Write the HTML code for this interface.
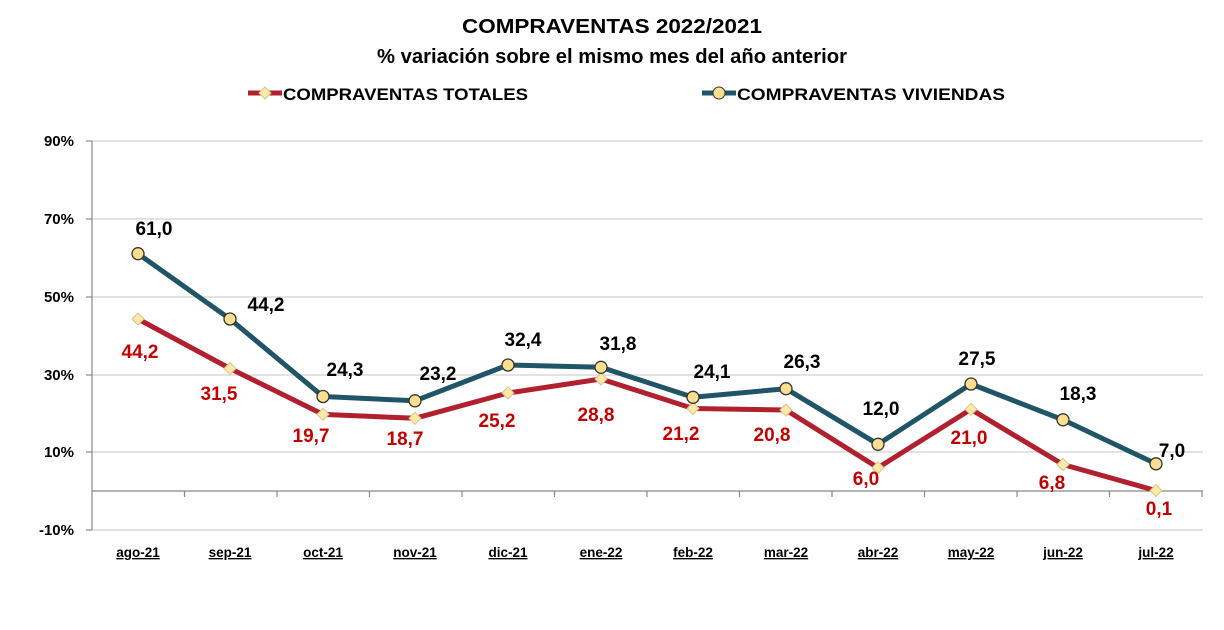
<!DOCTYPE html>
<html><head><meta charset="utf-8"><style>
body{margin:0;background:#fff;}
svg text{font-family:"Liberation Sans",sans-serif;font-weight:bold;}
</style></head><body>
<svg width="1224" height="625" viewBox="0 0 1224 625" xmlns="http://www.w3.org/2000/svg">
<rect width="1224" height="625" fill="#fff"/>
<text x="612" y="33" font-size="20" text-anchor="middle" textLength="300" lengthAdjust="spacingAndGlyphs">COMPRAVENTAS 2022/2021</text>
<text x="612" y="63" font-size="20" text-anchor="middle" textLength="470" lengthAdjust="spacingAndGlyphs">% variación sobre el mismo mes del año anterior</text>
<line x1="248" y1="93" x2="282" y2="93" stroke="#b0202e" stroke-width="5"/>
<path d="M265 87 L271 93 L265 99 L259 93Z" fill="#fde9a9" stroke="#d9c38a"/>
<text x="283" y="100" font-size="17" textLength="245" lengthAdjust="spacingAndGlyphs">COMPRAVENTAS TOTALES</text>
<line x1="702" y1="93" x2="736" y2="93" stroke="#1f5566" stroke-width="5"/>
<circle cx="719" cy="93" r="6" fill="#fddf8f" stroke="#333"/>
<text x="737" y="100" font-size="17" textLength="268" lengthAdjust="spacingAndGlyphs">COMPRAVENTAS VIVIENDAS</text>
<g stroke="#d9d9d9" stroke-width="1.5">
<line x1="92" y1="141" x2="1203" y2="141"/><line x1="92" y1="219" x2="1203" y2="219"/>
<line x1="92" y1="297" x2="1203" y2="297"/><line x1="92" y1="375" x2="1203" y2="375"/>
<line x1="92" y1="452" x2="1203" y2="452"/><line x1="92" y1="530" x2="1203" y2="530"/>
</g>
<g stroke="#888" stroke-width="1.2">
<line x1="92" y1="141" x2="92" y2="530"/>
<line x1="86" y1="141" x2="92" y2="141"/><line x1="86" y1="219" x2="92" y2="219"/><line x1="86" y1="297" x2="92" y2="297"/><line x1="86" y1="375" x2="92" y2="375"/><line x1="86" y1="452" x2="92" y2="452"/><line x1="86" y1="530" x2="92" y2="530"/>
<line x1="92" y1="491" x2="1203" y2="491"/>
<path d="M184.5 491v6M277 491v6M369.5 491v6M462 491v6M554.5 491v6M647 491v6M739.5 491v6M832 491v6M924.5 491v6M1017 491v6M1109.5 491v6M1202 491v6"/>
</g>
<g font-size="15" text-anchor="end">
<text x="74" y="146">90%</text><text x="74" y="224">70%</text><text x="74" y="302">50%</text><text x="74" y="380">30%</text><text x="74" y="457">10%</text><text x="74" y="535">-10%</text>
</g>
<g font-size="13.5" text-anchor="middle" text-decoration="underline">
<text x="138" y="557">ago-21</text><text x="230" y="557">sep-21</text><text x="323" y="557">oct-21</text><text x="415" y="557">nov-21</text><text x="508" y="557">dic-21</text><text x="601" y="557">ene-22</text><text x="693" y="557">feb-22</text><text x="786" y="557">mar-22</text><text x="878" y="557">abr-22</text><text x="971" y="557">may-22</text><text x="1063" y="557">jun-22</text><text x="1156" y="557">jul-22</text>
</g>
<polyline fill="none" stroke="#b0202e" stroke-width="5" stroke-linejoin="round" points="138,319 230,368.5 323,414.4 415,418.3 508,393 601,379 693,408.5 786,410 878,467.7 971,409.3 1063,464.5 1156,490.6"/>
<polyline fill="none" stroke="#1f5566" stroke-width="5" stroke-linejoin="round" points="138,253.7 230,319 323,396.5 415,400.8 508,365 601,367.3 693,397.3 786,388.7 878,444.3 971,384 1063,419.8 1156,463.8"/>
<g fill="#fde9a9" stroke="#d9c38a" stroke-width="1">
<path d="M138 313l6 6-6 6-6-6z"/><path d="M230 362.5l6 6-6 6-6-6z"/><path d="M323 408.4l6 6-6 6-6-6z"/><path d="M415 412.3l6 6-6 6-6-6z"/><path d="M508 387l6 6-6 6-6-6z"/><path d="M601 373l6 6-6 6-6-6z"/><path d="M693 402.5l6 6-6 6-6-6z"/><path d="M786 404l6 6-6 6-6-6z"/><path d="M878 461.7l6 6-6 6-6-6z"/><path d="M971 403.3l6 6-6 6-6-6z"/><path d="M1063 458.5l6 6-6 6-6-6z"/><path d="M1156 484.6l6 6-6 6-6-6z"/>
</g>
<g fill="#fddf8f" stroke="#333" stroke-width="1.3">
<circle cx="138" cy="253.7" r="6"/><circle cx="230" cy="319" r="6"/><circle cx="323" cy="396.5" r="6"/><circle cx="415" cy="400.8" r="6"/><circle cx="508" cy="365" r="6"/><circle cx="601" cy="367.3" r="6"/><circle cx="693" cy="397.3" r="6"/><circle cx="786" cy="388.7" r="6"/><circle cx="878" cy="444.3" r="6"/><circle cx="971" cy="384" r="6"/><circle cx="1063" cy="419.8" r="6"/><circle cx="1156" cy="463.8" r="6"/>
</g>
<g font-size="19" text-anchor="middle" fill="#c00000">
<text x="140" y="358">44,2</text><text x="219" y="400">31,5</text><text x="311" y="442">19,7</text><text x="405" y="445">18,7</text><text x="497" y="427">25,2</text><text x="596" y="421">28,8</text><text x="681" y="440">21,2</text><text x="772" y="441">20,8</text><text x="866" y="485">6,0</text><text x="969" y="444">21,0</text><text x="1052" y="489">6,8</text><text x="1159" y="515">0,1</text>
</g>
<g font-size="19" text-anchor="middle" fill="#000">
<text x="154" y="235">61,0</text><text x="266" y="311">44,2</text><text x="345" y="376">24,3</text><text x="438" y="380">23,2</text><text x="523" y="346">32,4</text><text x="618" y="350">31,8</text><text x="712" y="378">24,1</text><text x="802" y="368">26,3</text><text x="881" y="415">12,0</text><text x="977" y="365">27,5</text><text x="1078" y="400">18,3</text><text x="1172" y="457">7,0</text>
</g>
</svg>
</body></html>
